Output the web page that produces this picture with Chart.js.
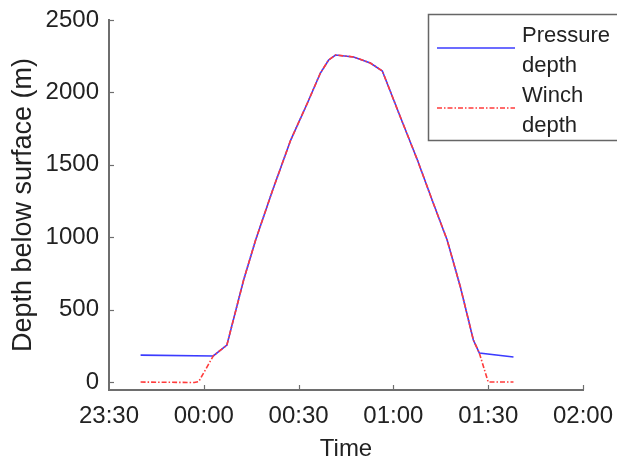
<!DOCTYPE html>
<html>
<head>
<meta charset="utf-8">
<script src="https://cdn.jsdelivr.net/npm/chart.js@4/dist/chart.umd.min.js"></script>
<style>
  html, body { margin: 0; padding: 0; background: #fff; }
  #wrap { width: 617px; height: 461px; }
</style>
</head>
<body>
<div id="wrap"><canvas id="depthChart" width="617" height="461"></canvas></div>
<script>
// minutes after 23:30
const tickLabels = ["23:30", "00:00", "00:30", "01:00", "01:30", "02:00"];
const depthTicks = [0, 500, 1000, 1500, 2000, 2500];

const pressureTimes = [10, 33, 37.3, 42.6, 46.4, 51.8, 57.5, 62.8, 66.9, 69.5, 71.7, 77.4, 82.7, 86.5, 92.2, 97.6, 102.6, 107, 111.2, 115.3, 117.2, 128];
const pressureDepth = [186, 180, 255, 704, 981, 1326, 1671, 1927, 2134, 2224, 2258, 2245, 2203, 2148, 1830, 1533, 1236, 981, 656, 290, 200, 173];

const winchTimes = [10, 25, 27, 28.4, 33, 37.3, 42.6, 46.4, 51.8, 57.5, 62.8, 66.9, 69.5, 71.7, 77.4, 82.7, 86.5, 92.2, 97.6, 102.6, 107, 111.2, 115.3, 117.2, 120, 128];
const winchDepth = [0, -3, -3, 3, 180, 255, 704, 981, 1326, 1671, 1927, 2134, 2224, 2258, 2245, 2203, 2148, 1830, 1533, 1236, 981, 656, 290, 200, 0, 0];

const FONT = "'Liberation Sans', Arial, sans-serif";
const AXIS = "#6e6e6e";
const TEXT = "#222";

function toPoints(xs, ys) {
    return xs.map((x, i) => ({ x: x, y: ys[i] }));
}

// MATLAB style ticks pointing into the plot
const innerTicks = {
    id: "innerTicks",
    afterDraw(chart) {
        const ctx = chart.ctx;
        const xs = chart.scales.x, ys = chart.scales.y;
        const area = chart.chartArea;
        ctx.save();
        ctx.strokeStyle = AXIS;
        ctx.lineWidth = 1.2;
        for (let i = 1; i < tickLabels.length; i++) {
            const px = Math.round(xs.getPixelForValue(i * 30)) + 0.5;
            ctx.beginPath();
            ctx.moveTo(px, area.bottom);
            ctx.lineTo(px, area.bottom - 5);
            ctx.stroke();
        }
        depthTicks.forEach(v => {
            const py = Math.round(ys.getPixelForValue(v)) + 0.5;
            ctx.beginPath();
            ctx.moveTo(area.left, py);
            ctx.lineTo(area.left + 5, py);
            ctx.stroke();
        });
        ctx.restore();
    }
};

// legend box with wrapped labels
const boxLegend = {
    id: "boxLegend",
    afterDraw(chart) {
        const ctx = chart.ctx;
        ctx.save();
        ctx.fillStyle = "#fff";
        ctx.fillRect(428, 14, 200, 127);
        ctx.strokeStyle = "#666";
        ctx.lineWidth = 1.5;
        ctx.strokeRect(428.5, 14.5, 200, 126);
        ctx.font = "22px " + FONT;
        ctx.fillStyle = TEXT;
        ctx.textBaseline = "alphabetic";
        ctx.textAlign = "left";
        const lineY = [48, 108];
        const baseY = [42, 102];
        chart.data.datasets.forEach((ds, i) => {
            ctx.beginPath();
            ctx.strokeStyle = ds.borderColor;
            ctx.lineWidth = ds.borderWidth;
            ctx.setLineDash(ds.borderDash || []);
            ctx.moveTo(437, lineY[i]);
            ctx.lineTo(515, lineY[i]);
            ctx.stroke();
            ctx.setLineDash([]);
            const words = ds.label.split(" ");
            ctx.fillText(words[0], 522, baseY[i]);
            ctx.fillText(words[1], 522, baseY[i] + 30);
        });
        ctx.restore();
    }
};

new Chart(document.getElementById("depthChart").getContext("2d"), {
    type: "line",
    data: {
        datasets: [{
            label: "Pressure depth",
            data: toPoints(pressureTimes, pressureDepth),
            borderColor: "#3b3bff",
            borderWidth: 1.6,
            pointRadius: 0,
            tension: 0,
            order: 2
        }, {
            label: "Winch depth",
            data: toPoints(winchTimes, winchDepth),
            borderColor: "#ff3b3b",
            borderWidth: 1.6,
            borderDash: [5, 2, 1.5, 2],
            pointRadius: 0,
            tension: 0,
            order: 1
        }]
    },
    options: {
        responsive: false,
        animation: false,
        layout: { padding: { left: 0, top: 20, right: 34, bottom: 0 } },
        plugins: {
            legend: { display: false },
            tooltip: { enabled: false }
        },
        scales: {
            x: {
                type: "linear",
                min: 0,
                max: 150,
                afterFit(scale) {
                    scale.height = 71;
                    scale.paddingLeft = 0;
                    scale.paddingRight = 0;
                },
                afterBuildTicks(scale) {
                    scale.ticks = tickLabels.map((t, i) => ({ value: i * 30 }));
                },
                ticks: {
                    padding: 12,
                    color: TEXT,
                    font: { family: FONT, size: 24 },
                    callback: (v) => tickLabels[Math.round(v / 30)],
                    maxRotation: 0
                },
                grid: { display: false, drawTicks: false },
                border: { display: true, color: AXIS, width: 2 },
                title: {
                    display: true,
                    text: "Time",
                    color: TEXT,
                    font: { family: FONT, size: 24, lineHeight: 1 },
                    padding: { top: 0, bottom: 0 }
                }
            },
            y: {
                min: -55,
                max: 2500,
                afterFit(scale) {
                    scale.width = 109;
                    scale.paddingTop = 0;
                    scale.paddingBottom = 0;
                },
                afterBuildTicks(scale) {
                    scale.ticks = depthTicks.map(v => ({ value: v }));
                },
                ticks: {
                    padding: 10,
                    color: TEXT,
                    font: { family: FONT, size: 24 },
                    callback: (v) => String(v)
                },
                grid: { display: false, drawTicks: false },
                border: { display: true, color: AXIS, width: 2 },
                title: {
                    display: true,
                    text: "Depth below surface (m)",
                    color: TEXT,
                    font: { family: FONT, size: 27 },
                    padding: { top: 7, bottom: 0 }
                }
            }
        }
    },
    plugins: [innerTicks, boxLegend]
});
</script>
</body>
</html>
